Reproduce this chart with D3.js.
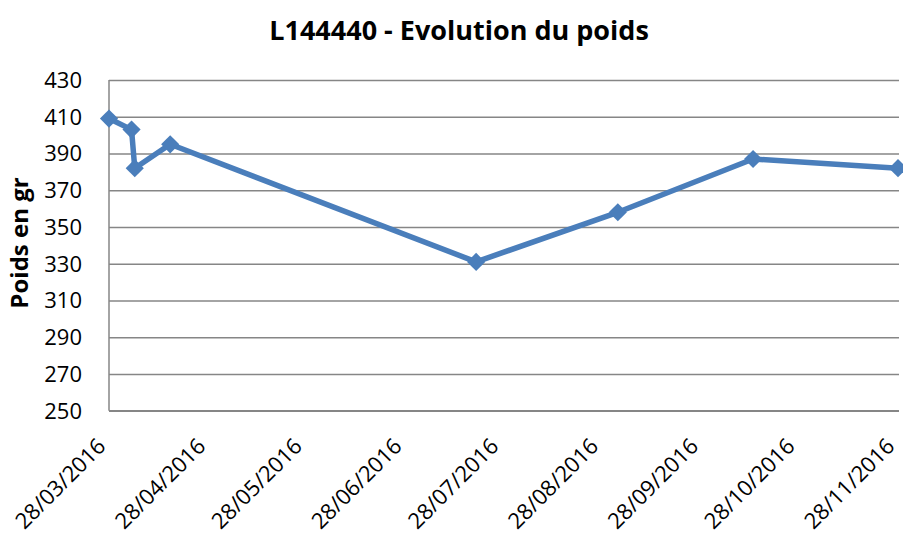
<!DOCTYPE html>
<html>
<head>
<meta charset="utf-8">
<script src="https://cdn.jsdelivr.net/npm/d3@7"></script>
<style>
  body { margin: 0; background: #fff; }
  text { font-family: "Open Sans", sans-serif; fill: #000; }
</style>
</head>
<body>
<svg id="chart" width="903" height="538"></svg>
<script>
// relevés de poids
const dates = ['28/03/2016','04/04/2016','05/04/2016','16/04/2016','20/07/2016','02/09/2016','14/10/2016','28/11/2016'];
const poids = [409, 403, 382, 395, 331, 358, 387, 382];
const yTicks = [250, 270, 290, 310, 330, 350, 370, 390, 410, 430];
const xTicks = ['28/03/2016','28/04/2016','28/05/2016','28/06/2016','28/07/2016','28/08/2016','28/09/2016','28/10/2016','28/11/2016'];

const parse = d3.timeParse('%d/%m/%Y'),
      fmt = d3.timeFormat('%d/%m/%Y');
const data = dates.map((d,i)=>({date: parse(d), v: poids[i]}));

const svg = d3.select('#chart'),
      mLeft = 109, mRight = 898, mTop = 80, mBottom = 410.7,
      bleu = '#4a7ebb', gris = '#868686';

const x = d3.scaleTime()
    .domain([parse(xTicks[0]), parse(xTicks[xTicks.length-1])])
    .range([mLeft, mRight]);
const y = d3.scaleLinear().domain([250, 430]).range([mBottom, mTop]);

// grille horizontale
svg.append('g')
    .attr('transform', `translate(${mLeft},0)`)
    .call(d3.axisLeft(y).tickValues(yTicks).tickSize(-(mRight-mLeft+1)).tickFormat(''))
    .call(g=>g.select('.domain').remove())
    .call(g=>g.selectAll('line').attr('stroke', gris).attr('stroke-width', 1.5));

// étiquettes Y
svg.append('g').selectAll('text')
    .data(yTicks).enter()
    .append('text')
    .attr('x', 82)
    .attr('y', d=>y(d))
    .attr('dy', '0.36em')
    .attr('text-anchor', 'end')
    .style('font-size', '22px')
    .text(d=>d);

// axes
svg.append('line').attr('x1', mLeft).attr('x2', mLeft).attr('y1', mTop).attr('y2', mBottom)
    .attr('stroke', gris).attr('stroke-width', 1.5);
svg.append('line').attr('x1', mLeft).attr('x2', mRight+1).attr('y1', mBottom).attr('y2', mBottom)
    .attr('stroke', gris).attr('stroke-width', 1.5);

// étiquettes X (dates tournées)
svg.append('g').selectAll('text')
    .data(xTicks.map(parse)).enter()
    .append('text')
    .attr('transform', d=>`translate(${x(d)-2},${mBottom+37}) rotate(-45)`)
    .attr('text-anchor', 'end')
    .style('font-size', '22px')
    .text(d=>fmt(d));

// courbe
const line = d3.line().x(d=>x(d.date)).y(d=>y(d.v));
svg.append('path')
    .datum(data)
    .attr('d', line)
    .attr('fill', 'none')
    .attr('stroke', bleu)
    .attr('stroke-width', 5.5)
    .attr('stroke-linejoin', 'round');

svg.append('g').selectAll('path')
    .data(data).enter()
    .append('path')
    .attr('d', d3.symbol().type(d3.symbolSquare).size(165))
    .attr('transform', d=>`translate(${x(d.date)},${y(d.v)}) rotate(45)`)
    .attr('fill', bleu);

// titres
svg.append('text')
    .attr('x', 459).attr('y', 40)
    .attr('text-anchor', 'middle')
    .style('font-size', '27px').style('font-weight', 'bold')
    .text('L144440 - Evolution du poids');

svg.append('text')
    .attr('transform', 'translate(28,243) rotate(-90)')
    .attr('text-anchor', 'middle')
    .style('font-size', '24px').style('font-weight', 'bold')
    .text('Poids en gr');
</script>
</body>
</html>
